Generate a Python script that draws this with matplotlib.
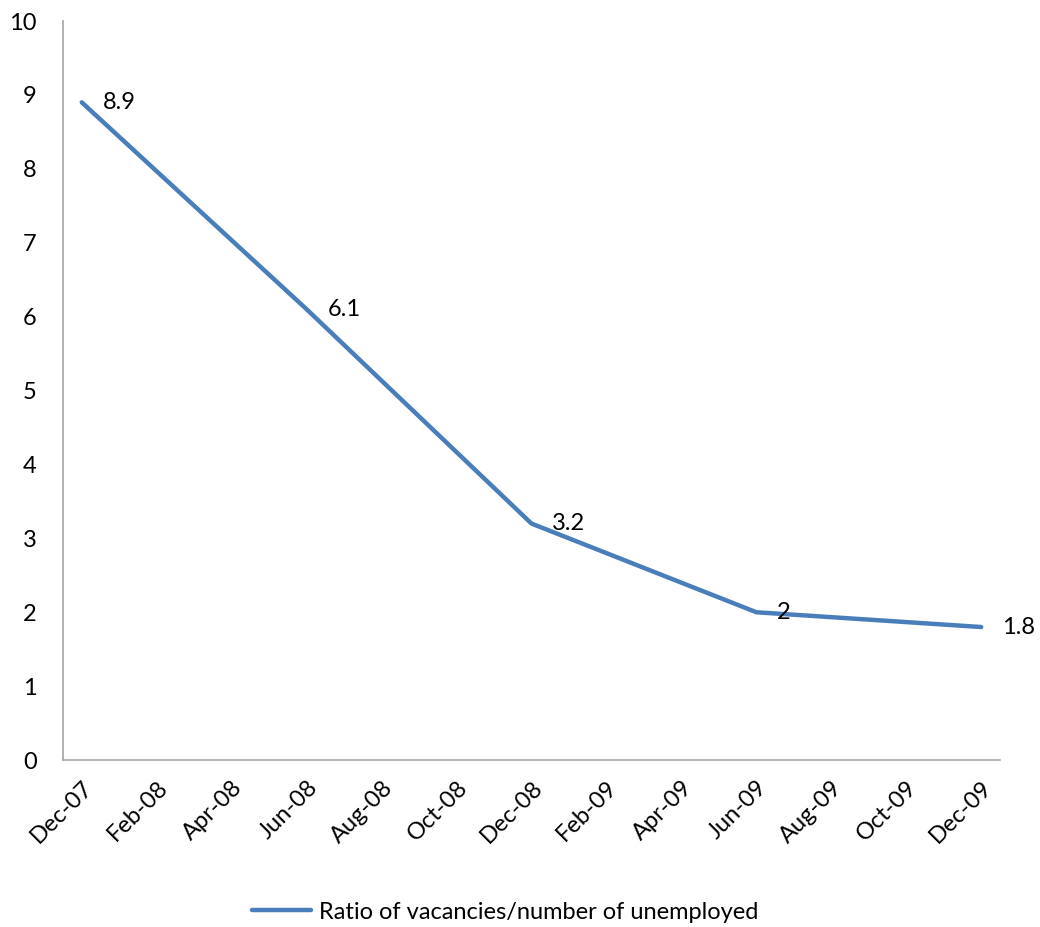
import numpy as np
import pandas as pd
import matplotlib
matplotlib.use("Agg")
import matplotlib.pyplot as plt

plt.rcParams['font.family'] = ['Lato', 'DejaVu Sans']

# データ
dates = ["2007-12", "2008-06", "2008-12", "2009-06", "2009-12"]
ratio = [8.9, 6.1, 3.2, 2, 1.8]
value_labels = ["8.9", "6.1", "3.2", "2", "1.8"]
series_name = "Ratio of vacancies/number of unemployed"

# 月単位の目盛り (2か月ごと)
tick_months = pd.period_range("2007-12", "2009-12", freq="2M")
start = pd.Period("2007-12", freq="M")

LINE_BLUE = "#4A7EBB"
AXIS_GRAY = "#A6A6A6"
FS = 17

x = np.array([(pd.Period(d, freq="M") - start).n for d in dates])
tick_x = [(pd.Period(p.strftime("%Y-%m"), freq="M") - start).n for p in tick_months]
tick_labels = [p.strftime("%b-%y") for p in tick_months]

fig = plt.figure(figsize=(10.4, 9.27), dpi=100)
ax = fig.add_axes([0.0606, 0.1801, 0.9009, 0.7972])

line, = ax.plot(x, ratio, color=LINE_BLUE, lw=3.2, solid_capstyle="round",
                solid_joinstyle="round", label=series_name)

# 値ラベル
for xi, yi, lab in zip(x, ratio, value_labels):
    ax.annotate(lab, (xi, yi), xytext=(15, 0), textcoords="offset points",
                ha="left", va="center", fontsize=FS, color="black")

ax.set_xlim(-0.5, x[-1] + 0.5)
ax.set_ylim(0, 10)
ax.set_yticks(range(0, 11))
ax.set_xticks(tick_x)
ax.set_xticklabels(tick_labels, rotation=45, ha="right", rotation_mode="anchor")
ax.tick_params(axis="both", length=0, labelsize=FS, colors="black")
ax.tick_params(axis="y", pad=19)
ax.tick_params(axis="x", pad=12)

for side in ["top", "right"]:
    ax.spines[side].set_visible(False)
for side in ["left", "bottom"]:
    ax.spines[side].set_color(AXIS_GRAY)
    ax.spines[side].set_linewidth(1.2)

fig.legend(handles=[line], loc="center", bbox_to_anchor=(0.486, 0.016),
           frameon=False, fontsize=FS, handlelength=2.5, handletextpad=0.35)

fig.savefig("out.png", dpi=100, facecolor="white")
